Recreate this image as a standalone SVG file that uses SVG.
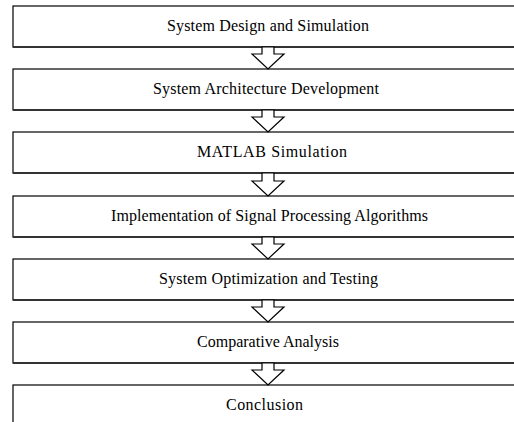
<svg xmlns="http://www.w3.org/2000/svg" width="514" height="422" viewBox="0 0 514 422">
<style>
.box{fill:#fff;stroke:#000;stroke-width:1.2}
.bot{stroke:#333;stroke-width:2}
.lbl{font-family:"Liberation Serif","Times New Roman",serif;font-size:16px;fill:#000;text-anchor:middle}
.arr{fill:#fff;stroke:#000;stroke-width:1.2;stroke-linejoin:miter}
</style>
<rect width="514" height="422" fill="#fff"/>
<g id="n1"><rect class="box" x="13" y="6" width="520" height="41"/><line class="bot" x1="13" y1="47" x2="514" y2="47"/><text class="lbl" x="268" y="31" textLength="202" lengthAdjust="spacing">System Design and Simulation</text></g>
<g id="n2"><rect class="box" x="13" y="69" width="520" height="41"/><line class="bot" x1="13" y1="110" x2="514" y2="110"/><text class="lbl" x="266" y="94" textLength="226" lengthAdjust="spacing">System Architecture Development</text></g>
<g id="n3"><rect class="box" x="13" y="132" width="520" height="41"/><line class="bot" x1="13" y1="173" x2="514" y2="173"/><text class="lbl" x="272" y="157" textLength="150" lengthAdjust="spacing">MATLAB Simulation</text></g>
<g id="n4"><rect class="box" x="13" y="196" width="520" height="41"/><line class="bot" x1="13" y1="237" x2="514" y2="237"/><text class="lbl" x="269.5" y="221" textLength="317" lengthAdjust="spacing">Implementation of Signal Processing Algorithms</text></g>
<g id="n5"><rect class="box" x="13" y="259" width="520" height="41"/><line class="bot" x1="13" y1="300" x2="514" y2="300"/><text class="lbl" x="268.5" y="284" textLength="219" lengthAdjust="spacing">System Optimization and Testing</text></g>
<g id="n6"><rect class="box" x="13" y="322" width="520" height="41"/><line class="bot" x1="13" y1="363" x2="514" y2="363"/><text class="lbl" x="268" y="347" textLength="142" lengthAdjust="spacing">Comparative Analysis</text></g>
<g id="n7"><rect class="box" x="13" y="385" width="520" height="60"/><text class="lbl" x="264.5" y="410" textLength="77" lengthAdjust="spacing">Conclusion</text></g>
<g id="connectors">
<polygon class="arr" points="262,47 262,54 252,54 268,69 284,54 274,54 274,47"/>
<polygon class="arr" points="262,110 262,117 252,117 268,132 284,117 274,117 274,110"/>
<polygon class="arr" points="262,173 262,181 252,181 268,196 284,181 274,181 274,173"/>
<polygon class="arr" points="262,237 262,244 252,244 268,259 284,244 274,244 274,237"/>
<polygon class="arr" points="262,300 262,307 252,307 268,322 284,307 274,307 274,300"/>
<polygon class="arr" points="262,363 262,370 252,370 268,385 284,370 274,370 274,363"/>
</g>
</svg>
